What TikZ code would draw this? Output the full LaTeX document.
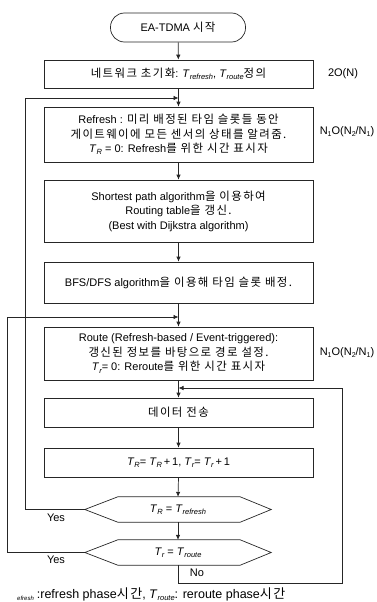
\documentclass[tikz,border=0pt]{standalone}
\usepackage{fontspec}
\setmainfont{Liberation Sans}
\newfontfamily\kr{Noto Sans CJK KR}[LetterSpace=12, Scale=1.04]
\usetikzlibrary{arrows.meta,calc}
\newcommand\Tsb[2]{\textit{#1}\raisebox{-0.35ex}{\fontsize{7.5}{7.5}\selectfont\itshape #2}}
\newcommand\Nsb[1]{N\raisebox{-0.3ex}{\fontsize{7}{7}\selectfont #1}}
\begin{document}
\begin{tikzpicture}[x=1pt,y=-1pt,
  every node/.style={font=\fontsize{11}{14.5}\selectfont, text=black},
  box/.style={draw=black!85, line width=0.7pt, minimum width=269pt, align=center, inner sep=0pt},
  term/.style={draw=black!85, line width=0.7pt, minimum width=135pt, minimum height=29pt, rounded corners=14pt, inner sep=0pt},
  hexbox/.style={minimum width=186pt, minimum height=25pt, inner sep=0pt},
  hexline/.style={draw=black!85, line width=0.7pt},
  arr/.style={draw=black!85, line width=0.7pt, -{Latex[length=5pt,width=4.5pt]}},
  lbl/.style={inner sep=0pt}]
\useasboundingbox (0,0) rectangle (377,602);
\node[term] (start) at (178,27.5) {EA-TDMA {\kr 시작}};
\node[box, minimum height=28pt] (b1) at (178.5,74) {{\kr 네트워크 초기화}: \Tsb{T}{refresh}, \Tsb{T}{route}{\kr 정의}};
\node[box, minimum height=55pt] (b2) at (178.5,134.5) {Refresh : {\kr 미리 배정된 타임 슬롯들 동안}\\{\kr 게이트웨이에 모든 센서의 상태를 알려줌.}\\\Tsb{T}{R} = 0: Refresh{\kr 를 위한 시간 표시자}};
\node[box, minimum height=62pt] (b3) at (178.5,211) {Shortest path algorithm{\kr 을 이용하여}\\Routing table{\kr 을 갱신.}\\(Best with Dijkstra algorithm)};
\node[box, minimum height=41pt] (b4) at (178.5,282.5) {BFS/DFS algorithm{\kr 을 이용해 타임 슬롯 배정.}};
\node[box, minimum height=53pt] (b5) at (178.5,353.5) {Route (Refresh-based / Event-triggered):\\{\kr 갱신된 정보를 바탕으로 경로 설정.}\\\Tsb{T}{r}= 0: Reroute{\kr 를 위한 시간 표시자}};
\node[box, minimum height=29pt] (b6) at (178.5,412.5) {{\kr 데이터 전송}};
\node[box, minimum height=29pt] (b7) at (178.5,462.5) {\Tsb{T}{R}= \Tsb{T}{R}\,+\,1, \Tsb{T}{r}= \Tsb{T}{r}\,+\,1};
\node[hexbox] (h1) at (178,509.5) {\Tsb{T}{R} = \Tsb{T}{refresh}};
\node[hexbox] (h2) at (178,552.5) {\Tsb{T}{r} = \Tsb{T}{route}};
\draw[hexline] (h1.west) -- ($(h1.north west)+(33,0)$) -- ($(h1.north east)+(-31,0)$) -- (h1.east) -- ($(h1.south east)+(-31,0)$) -- ($(h1.south west)+(33,0)$) -- cycle;
\draw[hexline] (h2.west) -- ($(h2.north west)+(33,0)$) -- ($(h2.north east)+(-31,0)$) -- (h2.east) -- ($(h2.south east)+(-31,0)$) -- ($(h2.south west)+(33,0)$) -- cycle;
% labels
\node[lbl] (c1) at (343,74) {2O(N)};
\node[lbl] (c2) at (347,132) {\Nsb{1}O(\Nsb{2}/\Nsb{1})};
\node[lbl] (c3) at (347,353) {\Nsb{1}O(\Nsb{2}/\Nsb{1})};
\node[lbl] (y1) at (56,518) {Yes};
\node[lbl] (y2) at (56,560) {Yes};
\node[lbl] (no) at (197,573) {No};
\node[lbl, anchor=west, font=\fontsize{12.5}{13}\selectfont] (fn) at (17,594) {\raisebox{-0.35ex}{\fontsize{6}{6}\selectfont\itshape efresh}\hspace{3pt}:refresh phase{\kr 시간}, \Tsb{T}{route}: reroute phase{\kr 시간}};
% coordinates
\coordinate (m1) at (178.5,98);
\coordinate (m2) at (178.5,317);
\coordinate (m3) at (178.5,388);
\coordinate (L1) at (25,98);
\coordinate (L2) at (7,317);
\coordinate (R) at (342,583);
% connectors
\draw[arr] (start) -- (b1);
\draw[arr] (b1) -- (b2);
\draw[arr] (b2) -- (b3);
\draw[arr] (b3) -- (b4);
\draw[arr] (b4) -- (b5);
\draw[arr] (b5) -- (b6);
\draw[arr] (b6) -- (b7);
\draw[arr] (b7.south) -- (h1.north);
\draw[arr] (h1.south) -- (h2.north);
\draw[arr] (h1.west) -| (L1) -- (m1);
\draw[arr] (h2.west) -| (L2) -- (m2);
\draw[arr] (h2.south) |- (R) |- (m3);
\end{tikzpicture}
\end{document}
